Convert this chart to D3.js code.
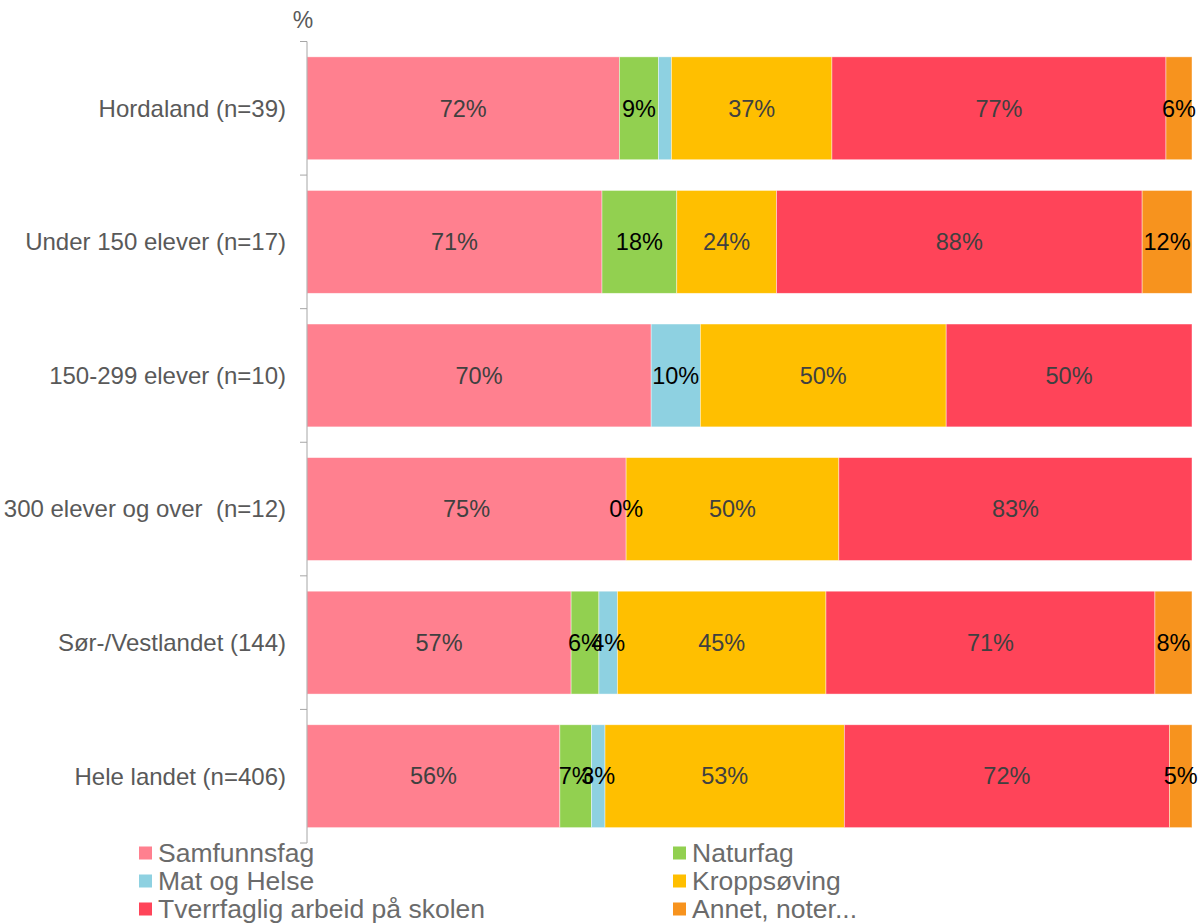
<!DOCTYPE html>
<html>
<head>
<meta charset="utf-8">
<script src="https://cdn.jsdelivr.net/npm/d3@7"></script>
<style>
  body { margin: 0; background: #fff; }
  text { font-family: "Liberation Sans", Arial, sans-serif; white-space: pre; }
</style>
</head>
<body>
<svg id="chart" width="1201" height="923"></svg>
<script>
// data
var categories = ["Hordaland (n=39)", "Under 150 elever (n=17)", "150-299 elever (n=10)",
                  "300 elever og over  (n=12)", "Sør-/Vestlandet (144)", "Hele landet (n=406)"]
var seriesNames = ["Samfunnsfag", "Naturfag", "Mat og Helse", "Kroppsøving",
                   "Tverrfaglig arbeid på skolen", "Annet, noter..."]
var samfunnsfag = [72, 71, 70, 75, 57, 56]
var naturfag    = [9, 18, 0, 0, 6, 7]
var matHelse    = [3, 0, 10, 0, 4, 3]
var kropps      = [37, 24, 50, 50, 45, 53]
var tverrfaglig = [77, 88, 50, 83, 71, 72]
var annet       = [6, 12, 0, 0, 8, 5]
var colors = ["#FF808F", "#92D050", "#8ED1E1", "#FFBF00", "#FF4459", "#F7931E"]
// labels Excel hid / showed as 0%
var hiddenLabels = [["Mat og Helse", 0]]
var zeroLabels = [["Mat og Helse", 3]]

var allSeries = [samfunnsfag, naturfag, matHelse, kropps, tverrfaglig, annet]

var rows = categories.map(function(c, i){
  var r = {cat: c}
  seriesNames.forEach(function(s, k){ r[s] = allSeries[k][i] })
  return r
})

var svg = d3.select("#chart")

var x = d3.scaleLinear().domain([0, 1]).range([307, 1192])
var y = d3.scaleBand().domain(categories).range([41.5, 843])
    .paddingInner(0.23).paddingOuter(0.115)

var stack = d3.stack().keys(seriesNames).offset(d3.stackOffsetExpand)
var stacked = stack(rows)

var layers = svg.append("g").selectAll("g")
    .data(stacked)
    .enter().append("g")
    .attr("fill", function(d, i){ return colors[i] })

layers.selectAll("rect")
    .data(function(d){ return d })
    .enter().append("rect")
    .attr("x", function(d){ return x(d[0]) })
    .attr("y", function(d){ return y(d.data.cat) })
    .attr("width", function(d){ return x(d[1]) - x(d[0]) })
    .attr("height", y.bandwidth())
    .attr("stroke", "#fff")
    .attr("stroke-opacity", 0.6)
    .attr("stroke-width", 0.7)

// value labels
var showLabel = function(name, i, v){
  var hid = hiddenLabels.some(function(h){ return h[0] == name && h[1] == i })
  var zero = zeroLabels.some(function(h){ return h[0] == name && h[1] == i })
  return (v > 0 && !hid) || zero
}
var darkLabel = ["Samfunnsfag", "Kroppsøving", "Tverrfaglig arbeid på skolen"]

stacked.forEach(function(layer){
  var name = layer.key
  layer.forEach(function(d, i){
    var v = d.data[name]
    if (!showLabel(name, i, v)) return
    svg.append("text")
      .attr("x", (x(d[0]) + x(d[1])) / 2)
      .attr("y", y(d.data.cat) + y.bandwidth() / 2)
      .attr("dy", "0.35em")
      .attr("text-anchor", "middle")
      .attr("font-size", 23.5)
      .attr("fill", darkLabel.indexOf(name) >= 0 ? "#404040" : "#000")
      .text(v + "%")
  })
})

// category axis
var step = y.step()
var axis = svg.append("g").attr("stroke", "#a6a6a6").attr("stroke-width", 1)
axis.append("line")
    .attr("x1", 307).attr("x2", 307)
    .attr("y1", y.range()[0]).attr("y2", y.range()[1])
var tickPos = categories.map(function(c){ return y(c) - y.paddingOuter() * step })
tickPos.push(y.range()[1])
axis.selectAll(".tk").data(tickPos).enter().append("line")
    .attr("x1", 300).attr("x2", 307)
    .attr("y1", function(d){ return d }).attr("y2", function(d){ return d })

svg.append("g").selectAll("text")
    .data(categories)
    .enter().append("text")
    .attr("x", 286)
    .attr("y", function(d){ return y(d) + y.bandwidth() / 2 })
    .attr("dy", "0.35em")
    .attr("text-anchor", "end")
    .attr("font-size", 24)
    .attr("fill", "#595959")
    .text(function(d){ return d })

svg.append("text")
    .attr("x", 303).attr("y", 28)
    .attr("text-anchor", "middle")
    .attr("font-size", 23)
    .attr("fill", "#595959")
    .text("%")

// legend, two columns
var legend = svg.append("g").selectAll("g")
    .data(seriesNames)
    .enter().append("g")
    .attr("transform", function(d, i){
      var col = i % 2, row = Math.floor(i / 2)
      return "translate(" + (col == 0 ? 139 : 673) + "," + (853 + row * 28) + ")"
    })
legend.append("rect")
    .attr("x", 0).attr("y", -6.5)
    .attr("width", 13).attr("height", 13)
    .attr("fill", function(d, i){ return colors[i] })
legend.append("text")
    .attr("x", 19).attr("y", 0)
    .attr("dy", "0.35em")
    .attr("font-size", 26.5)
    .attr("fill", "#6b6b6b")
    .text(function(d){ return d })
</script>
</body>
</html>
